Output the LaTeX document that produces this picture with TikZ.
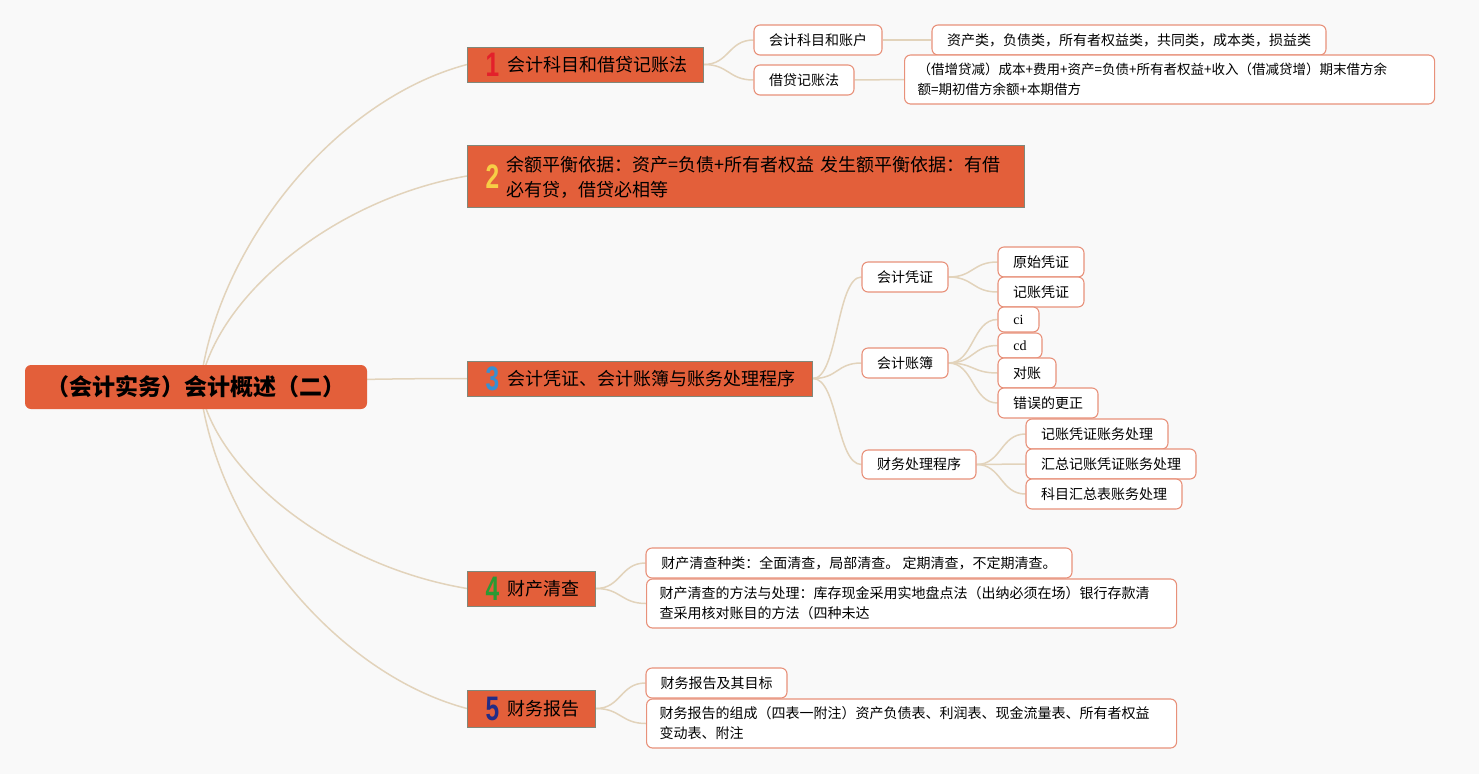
\documentclass[tikz,border=0pt]{standalone}
\usepackage{fontspec}
\usepackage{graphicx}
\setmainfont{Noto Sans CJK SC}
\newfontfamily\numfont{Liberation Sans}
\newfontfamily\latinserif{Liberation Serif}
\usetikzlibrary{calc}
\pgfdeclarelayer{bg}\pgfdeclarelayer{edges}\pgfsetlayers{bg,edges,main}
\definecolor{orangeF}{HTML}{E35F3A}
\definecolor{grayB}{HTML}{80887A}
\definecolor{leafB}{HTML}{E8917A}
\definecolor{linkC}{HTML}{E2D3BB}
\definecolor{bgC}{HTML}{F9F9F9}
\definecolor{numred}{HTML}{E3202B}
\definecolor{numyellow}{HTML}{F7CE46}
\definecolor{numblue}{HTML}{3A8FD0}
\definecolor{numgreen}{HTML}{2A9A33}
\definecolor{numnavy}{HTML}{232C86}
\newcommand\numb[2]{{\color{#1}\scalebox{0.72}[1]{\numfont\bfseries\fontsize{34}{34}\selectfont #2}}}
\tikzset{
  rootbox/.style={fill=orangeF, rounded corners=6pt, draw=none, text=black,
    font=\fontsize{23}{27}\selectfont\bfseries, inner sep=0, align=center},
  lvlone/.style={fill=orangeF, draw=grayB, line width=1, text=black, anchor=west,
    font=\fontsize{18}{25}\selectfont, inner xsep=18, inner ysep=0, align=left,
    text height=16.8pt, text depth=3.2pt},
  leaf/.style={fill=white, draw=leafB, line width=1.1, rounded corners=6pt, text=black,
    font=\fontsize{14}{20}\selectfont, inner sep=0, align=center, minimum height=30},
  leafml/.style={leaf, anchor=west, inner xsep=13, align=left, minimum height=49},
  link/.style={draw=linkC, line width=1.5},
}
\begin{document}
\begin{tikzpicture}[x=1pt,y=-1pt]
\begin{pgfonlayer}{bg}
\fill[bgC] (0,0) rectangle (1479,774);
\end{pgfonlayer}
\useasboundingbox (0,0) rectangle (1479,774);

% root
\node[rootbox, minimum width=342, minimum height=44] (r) at (196,387) {（会计实务）会计概述（二）};
\coordinate (rc) at (200,387);

% level one
\node[lvlone, minimum height=35, text width=200] (n1) at (467,64.5) {\mbox{\raisebox{-5.35pt}{\numb{numred}{1}}\hspace{8pt}会计科目和借贷记账法}};
\node[lvlone, minimum height=62, text width=521, text height=30pt, text depth=14.4pt] (n2) at (467,176) {\mbox{\raisebox{-4.35pt}{\numb{numyellow}{2}}\hspace{7pt}\begin{tabular}[c]{@{}l@{}}余额平衡依据：资产=负债+所有者权益 发生额平衡依据：有借\\必有贷，借贷必相等\end{tabular}}};
\node[lvlone, minimum height=35, text width=309] (n3) at (467,378.5) {\mbox{\raisebox{-5.35pt}{\numb{numblue}{3}}\hspace{8pt}会计凭证、会计账簿与账务处理程序}};
\node[lvlone, minimum height=35, text width=92] (n4) at (467,588.5) {\mbox{\raisebox{-5.35pt}{\numb{numgreen}{4}}\hspace{8pt}财产清查}};
\node[lvlone, minimum height=37, text width=92] (n5) at (467,708.5) {\mbox{\raisebox{-5.35pt}{\numb{numnavy}{5}}\hspace{8pt}财务报告}};

% branch 1
\node[leaf, minimum width=128] (a1) at (818,40) {会计科目和账户};
\node[leaf, minimum width=100] (a2) at (804,80) {借贷记账法};
\node[leaf, minimum width=394] (a1a) at (1129,40) {资产类，负债类，所有者权益类，共同类，成本类，损益类};
\node[leafml, text width=504, font=\fontsize{13.5}{20}\selectfont] (a2a) at (904,79.5) {（借增贷减）成本+费用+资产=负债+所有者权益+收入（借减贷增）期末借方余\\额=期初借方余额+本期借方};

% branch 3
\node[leaf, minimum width=86] (b1) at (905,277) {会计凭证};
\node[leaf, minimum width=86] (b2) at (905,363) {会计账簿};
\node[leaf, minimum width=114, minimum height=29] (b3) at (919,464.5) {财务处理程序};
\node[leaf, minimum width=86] (b1a) at (1041,262) {原始凭证};
\node[leaf, minimum width=86] (b1b) at (1041,292) {记账凭证};
\node[leaf, minimum width=41, minimum height=25] (b2a) at (1018.5,319.5) {\latinserif ci};
\node[leaf, minimum width=44, minimum height=25] (b2b) at (1020,345.5) {\latinserif cd};
\node[leaf, minimum width=58] (b2c) at (1027,373) {对账};
\node[leaf, minimum width=100] (b2d) at (1048,403) {错误的更正};
\node[leaf, minimum width=142] (b3a) at (1097,434) {记账凭证账务处理};
\node[leaf, minimum width=170] (b3b) at (1111,464) {汇总记账凭证账务处理};
\node[leaf, minimum width=156] (b3c) at (1104,494) {科目汇总表账务处理};

% branch 4
\node[leaf, minimum width=426] (c1) at (859,563) {财产清查种类：全面清查，局部清查。 定期清查，不定期清查。};
\node[leafml, text width=504] (c2) at (646,603.5) {财产清查的方法与处理：库存现金采用实地盘点法（出纳必须在场）银行存款清\\查采用核对账目的方法（四种未达};

% branch 5
\node[leaf, minimum width=141] (d1) at (716.5,683) {财务报告及其目标};
\node[leafml, text width=504] (d2) at (646,723.5) {财务报告的组成（四表一附注）资产负债表、利润表、现金流量表、所有者权益\\变动表、附注};

\begin{pgfonlayer}{edges}
% root edges
\draw[link] (rc) .. controls ($(rc)+(16,-138.5)$) and ($(n1.west)+(-133.5,35.4)$) .. (n1.west);
\draw[link] (rc) .. controls ($(rc)+(16,-90.7)$) and ($(n2.west)+(-133.5,23.2)$) .. (n2.west);
\draw[link] (rc) .. controls ($(rc)+(16,-3.7)$) and ($(n3.west)+(-133.5,0)$) .. (n3.west);
\draw[link] (rc) .. controls ($(rc)+(16,86.6)$) and ($(n4.west)+(-133.5,-22.2)$) .. (n4.west);
\draw[link] (rc) .. controls ($(rc)+(16,138.2)$) and ($(n5.west)+(-133.5,-35.4)$) .. (n5.west);
% branch edges
\foreach \p/\c in {n1/a1,n1/a2,n3/b1,n3/b2,n3/b3,b1/b1a,b1/b1b,b2/b2a,b2/b2b,b2/b2c,b2/b2d,b3/b3a,b3/b3b,b3/b3c,n4/c1,n4/c2,n5/d1,n5/d2}
  \draw[link] (\p.east) .. controls +(25,0) and +(-25,0) .. (\c.west);
\draw[link] (a1.east) -- (a1a.west);
\draw[link] (a2.east) -- (a2a.west);
\end{pgfonlayer}
\end{tikzpicture}
\end{document}
